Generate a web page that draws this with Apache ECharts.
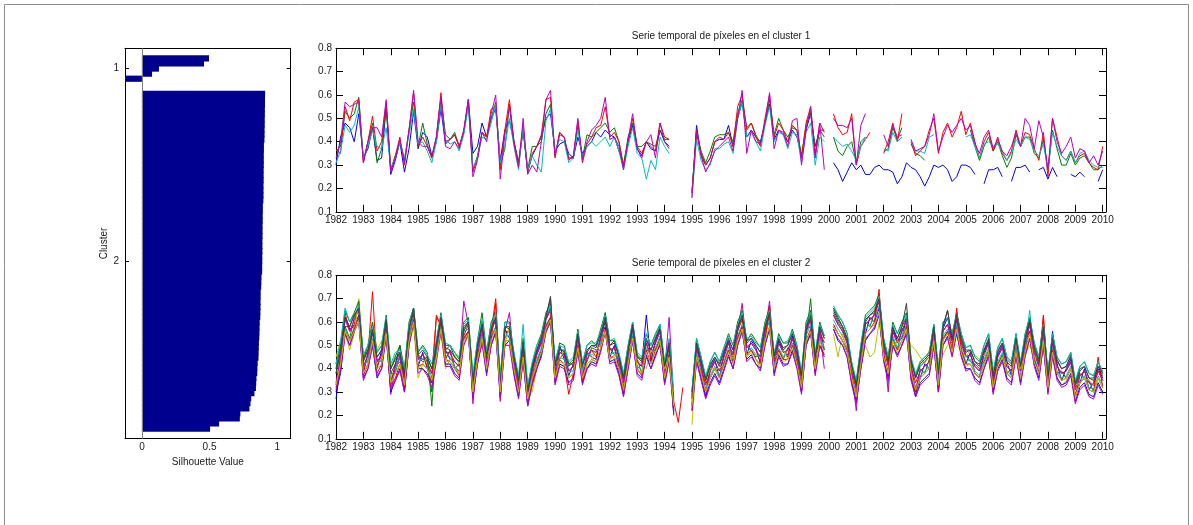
<!DOCTYPE html>
<html lang="es">
<head>
<meta charset="UTF-8">
<title>Silhouette y series temporales por cluster</title>
<script src="https://cdn.jsdelivr.net/npm/echarts@6.0.0/dist/echarts.min.js"></script>
<style>
  html, body { margin: 0; padding: 0; background: #fff; }
  #chart { width: 1193px; height: 525px; }
</style>
</head>
<body>
<div id="chart"></div>
<script>
var _ = null; // hueco en la serie (NaN)

// silhouette por cluster, ordenado de mayor a menor
var clusterNames = ['1', '2'];
var silCluster1 = [0.496, 0.459, 0.126, 0.075, -0.125];
var silCluster2 = [
  .911, .910, .910, .909, .909, .908, .908, .907, .907, .906,
  .902, .902, .901, .901, .901, .900, .900, .900, .899, .899, .899, .898,
  .894, .894, .893, .893, .892, .892, .892, .891, .891, .891, .890, .890, .889, .889,
  .884, .883, .882,
  .878, .878, .877, .877, .876, .875,
  .871, .870, .869, .868,
  .865, .864, .863, .862,
  .856, .854, .853,
  .847, .845, .843,
  .832,
  .808, .803,
  .795,
  .728, .724,
  .571,
  .504
];

// series temporales: 6 muestras por año, 1982.0 ... 2010.0
var c1Blue = [
  .30,.42,.48,.46,.40,.52, .33,.37,.46,.32,.33,.55,
  .26,.32,.40,.27,.37,.53, .37,.44,.42,.34,.40,.54,
  .39,.41,.43,.38,.44,.58, .35,.38,.48,.42,.50,.54,
  .32,.45,.49,.40,.31,.45, .27,.34,.38,.42,.50,.52,
  .36,.39,.40,.35,.33,.42, .35,.38,.40,.44,.42,.45,
  .43,.42,.36,.30,.40,.47, .37,.34,.40,.37,.36,.45,
  .40,.38,_,_,_,_, .18,.47,.34,.30,.33,.40,
  .41,.41,.47,.38,.50,.57, .42,.45,.42,.40,.48,.56,
  .41,.45,.43,.40,.45,.42, .34,.45,.52,.38,.45,.45,
  _,.31,.28,.23,.27,.31, .28,.30,.26,.26,.29,.30,
  .28,.28,.27,.22,.25,.31, .29,.28,.25,.21,.25,.30,
  .29,.30,.28,.23,.25,.30, .30,.29,.26,_,.22,.28,
  .28,.29,.25,_,.23,.29, .29,.30,.27,_,.28,.29,
  .24,.29,.25,_,_,.26, .25,.27,.25,_,_,.23,
  .28
];
var c1Green = [
  .36,.38,.53,.50,.52,.59, .32,.40,.48,.31,.37,.55,
  .28,.34,.40,.32,.45,.57, .38,.48,.39,.33,.42,.59,
  .43,.41,.44,.38,.44,.57, .28,.34,.44,.42,.50,.57,
  .30,.37,.56,.40,.30,.45, .28,.38,.38,.40,.52,.56,
  .34,.44,.42,.33,.33,.47, .33,.43,.42,.44,.46,.48,
  .44,.46,.40,.30,.42,.48, .38,.38,.40,.39,.38,.45,
  .41,.41,_,_,_,_, .19,.44,.36,.31,.36,.42,
  .43,.43,.44,.40,.52,.58, .46,.48,.43,.39,.48,.58,
  .43,.50,.45,.42,.46,.45, .34,.47,.53,.34,.45,.42,
  _,.42,.36,.34,.38,.40, .31,.40,.42,_,_,_,
  .36,.37,.46,.41,.46,_, .39,.35,.34,.32,_,_,
  _,_,_,_,_,_, _,.45,.38,.32,.38,.42,
  .36,.40,.34,.29,.33,.43, .38,.42,.42,.35,.33,.41,
  .28,.45,.37,.30,.30,.35, .30,.33,.34,.31,.28,.28,
  .30
];
var c1Red = [
  .37,.35,.55,.49,.57,.58, .31,.40,.51,.36,.40,.57,
  .28,.34,.42,.30,.45,.61, .38,.42,.38,.33,.42,.61,
  .40,.41,.43,.38,.45,.58, .27,.33,.44,.42,.54,.55,
  .28,.45,.58,.40,.31,.47, .27,.35,.38,.43,.58,.59,
  .33,.44,.42,.32,.34,.49, .31,.39,.42,.46,.47,.55,
  .42,.44,.40,.29,.40,.50, .38,.35,.40,.38,.36,.48,
  .42,.41,_,_,_,_, .18,.45,.35,.30,.33,.40,
  .42,.41,.44,.38,.55,.60, .45,.48,.42,.38,.50,.60,
  .42,.48,.45,.40,.47,.45, .33,.48,.55,.35,.48,.44,
  _,.52,.46,.43,.44,.52, .30,.38,.41,.44,_,_,
  .35,.40,.48,.40,.52,_, .40,.34,.36,.38,.45,.50,
  .35,.44,.48,.42,.46,.53, .43,.48,.40,.33,.40,.44,
  .36,.42,.35,.32,.36,.45, .38,.44,.43,.37,.32,.44,
  .25,.50,.42,.34,.32,.36, .31,.34,.35,.31,.29,.28,
  .38
];
var c1Cyan = [
  .31,.36,.47,.44,.47,.55, .33,.38,.45,.38,.37,.46,
  .29,.33,.40,.33,.43,.54, .39,.40,.36,.31,.40,.56,
  .41,.39,.40,.36,.43,.55, .29,.33,.42,.41,.48,.56,
  .31,.38,.50,.38,.28,.47, .28,.34,.30,.27,.49,.54,
  .36,.41,.40,.31,.33,.45, .33,.38,.40,.38,.40,.42,
  .38,.42,.36,.28,.38,.46, .35,.33,.24,.32,.28,.42,
  .38,.35,_,_,_,_, .16,.41,.32,.28,.30,.37,
  .37,.39,.40,.35,.50,.57, .42,.44,.40,.36,.47,.55,
  .40,.44,.43,.37,.44,.43, .31,.44,.48,.30,.42,.40,
  _,.42,.40,.38,.39,.36, .32,.38,.42,_,_,_,
  .37,.36,.44,.40,.42,_, .40,.36,.36,.35,.42,.43,
  _,_,_,_,_,_, .42,.43,.38,.33,.39,.40,
  .38,.39,.36,.32,.35,.41, .38,.42,.41,.36,.34,.39,
  .28,.44,.38,.34,.32,.36, .31,.35,.36,.32,.30,.29,
  .29
];
var c1Magenta = [
  .33,.40,.57,.55,.56,.57, .31,.40,.46,.46,.42,.58,
  .27,.33,.41,.31,.45,.62, .40,.38,.38,.34,.42,.59,
  .38,.37,.40,.37,.45,.58, .25,.32,.44,.40,.52,.60,
  .24,.43,.55,.39,.29,.50, .26,.30,.27,.40,.58,.62,
  .34,.43,.42,.33,.33,.50, .32,.40,.45,.47,.50,.59,
  .41,.42,.38,.28,.41,.52, .37,.33,.40,.43,.33,.48,
  .40,.37,_,_,_,_, .16,.44,.34,.27,.31,.36,
  .38,.40,.42,.36,.50,.62, .35,.45,.40,.39,.48,.61,
  .37,.45,.44,.38,.49,.50, .30,.45,.55,.33,.48,.28,
  _,.50,.47,.47,.46,.50, .30,.47,.52,_,_,_,
  .43,.38,.47,.42,.43,_, .41,.36,.37,.38,.43,.52,
  .36,.42,.47,.44,.47,.50, .45,.47,.39,.35,.42,.45,
  .37,.41,.36,.34,.38,.44, .38,.50,.47,.37,.49,.42,
  .28,.50,.40,.35,.38,.42, .33,.37,.36,.31,.34,.30,
  .36
];

var c2s1 = [
  .27,.42,.62,.57,.58,.63, .38,.47,.52,.40,.48,.60,
  .33,.42,.50,.33,.52,.62, .41,.47,.40,.34,.50,.61,
  .48,.44,.43,.41,.53,.56, .30,.49,.58,.44,.53,.58,
  .30,.57,.53,.44,.30,.50, .26,.40,.47,.52,.58,.62,
  .36,.50,.44,.37,.42,.50, .36,.47,.45,.44,.54,.58,
  .45,.50,.40,.31,.47,.54, .40,.42,.63,.43,.52,.57,
  .36,.52,.22,_,_,_, .24,.50,.42,.30,.40,.44,
  .36,.46,.52,.43,.53,.58, .46,.52,.49,.42,.57,.60,
  .40,.52,.48,.45,.54,.43, .32,.57,.58,.40,.57,.48,
  _,.58,.55,.52,.47,.36, .29,.43,.55,.62,.60,.66,
  .46,.38,.57,.52,.53,.62, .38,.30,.36,.42,.40,.57,
  .33,.57,.62,.52,.58,.48, .42,.47,.38,.36,.47,.52,
  .33,.46,.50,.43,.37,.52, .40,.52,.56,.44,.38,.53,
  .33,.56,.42,.35,.40,.44, .28,.34,.40,.31,.34,.40,
  .36
];
var c2s2 = [
  .38,.47,.58,.53,.62,.66, .42,.43,.57,.44,.43,.56,
  .38,.38,.46,.37,.57,.65, .45,.43,.44,.30,.46,.62,
  .44,.48,.40,.42,.57,.60, .34,.45,.60,.40,.57,.62,
  .34,.53,.57,.40,.34,.46, .30,.36,.43,.48,.62,.66,
  .40,.44,.47,.36,.38,.54, .40,.43,.49,.48,.50,.62,
  .49,.46,.44,.35,.43,.58, .44,.38,.48,.47,.48,.53,
  .40,.46,.27,_,_,_, .28,.46,.38,.34,.36,.40,
  .40,.42,.48,.47,.57,.62, .50,.48,.45,.46,.53,.64,
  .44,.48,.44,.49,.50,.47, .36,.53,.70,.44,.53,.52,
  _,.64,.60,.57,.52,.40, .32,.47,.60,.58,.64,.70,
  .50,.42,.53,.48,.57,.58, .42,.28,.40,.38,.44,.53,
  .37,.53,.56,.48,.62,.52, .46,.43,.42,.40,.43,.48,
  .36,.42,.46,.38,.40,.48, .36,.48,.60,.48,.42,.57,
  .36,.48,.38,.39,.36,.40, .32,.38,.36,.35,.30,.36,
  .32
];
var c2s3 = [
  .34,.44,.64,.56,.59,.68, .39,.46,.73,.41,.46,.59,
  .35,.41,.43,.36,.54,.63, .44,.46,.41,.38,.62,.59,
  .45,.47,.41,.39,.54,.59, .31,.46,.55,.43,.56,.70,
  .31,.56,.56,.41,.31,.49, .27,.37,.46,.51,.61,.65,
  .37,.47,.46,.39,.41,.53, .37,.44,.48,.45,.53,.61,
  .48,.49,.41,.32,.46,.57, .43,.41,.51,.44,.51,.56,
  .37,.49,.26,.17,.32,_, .27,.49,.41,.33,.39,.43,
  .39,.45,.51,.44,.56,.61, .49,.51,.48,.43,.56,.63,
  .43,.51,.47,.46,.53,.46, .35,.56,.61,.43,.56,.51,
  _,.63,.59,.56,.51,.39, .31,.46,.59,.61,.63,.69,
  .49,.41,.56,.51,.56,.61, .41,.34,.39,.41,.43,.56,
  .36,.56,.59,.51,.61,.51, .45,.46,.41,.39,.46,.51,
  .35,.45,.49,.41,.39,.51, .39,.51,.59,.47,.41,.63,
  .35,.51,.41,.38,.39,.43, .31,.37,.39,.34,.33,.39,
  .35
];
var c2s4 = [
  .40,.48,.57,.52,.58,.62, .41,.44,.53,.43,.44,.56,
  .37,.39,.45,.30,.53,.62, .44,.44,.43,.36,.47,.58,
  .47,.45,.41,.38,.56,.57, .33,.48,.54,.41,.53,.58,
  .33,.54,.54,.43,.33,.47, .27,.39,.44,.49,.59,.62,
  .39,.45,.44,.39,.39,.51, .39,.46,.46,.47,.51,.64,
  .46,.47,.43,.28,.44,.55, .41,.39,.49,.46,.49,.54,
  .39,.47,.24,_,_,_, .25,.47,.39,.31,.37,.41,
  .37,.43,.49,.46,.54,.59, .47,.49,.46,.45,.54,.61,
  .41,.49,.45,.48,.51,.44, .33,.54,.59,.41,.54,.49,
  _,.61,.57,.54,.49,.37, .29,.44,.57,.59,.61,.67,
  .47,.33,.54,.49,.54,.59, .39,.32,.37,.39,.41,.54,
  .34,.54,.57,.49,.59,.49, .43,.44,.39,.37,.44,.49,
  .33,.43,.47,.39,.37,.49, .37,.49,.65,.45,.39,.54,
  .33,.49,.39,.36,.37,.41, .29,.35,.37,.32,.31,.37,
  .33
];
var c2s5 = [
  .33,.46,.61,.56,.61,.65, .41,.46,.56,.43,.46,.59,
  .29,.41,.45,.31,.56,.66, .44,.46,.43,.38,.49,.61,
  .47,.47,.43,.41,.69,.59, .25,.48,.57,.43,.56,.61,
  .26,.56,.64,.43,.33,.49, .29,.39,.46,.51,.61,.66,
  .39,.47,.46,.39,.41,.53, .36,.46,.48,.47,.53,.61,
  .48,.49,.43,.34,.46,.57, .43,.41,.51,.46,.51,.56,
  .39,.62,.26,_,_,_, .27,.49,.41,.28,.39,.43,
  .39,.45,.51,.46,.56,.68, .49,.51,.48,.45,.56,.69,
  .43,.51,.47,.48,.53,.46, .30,.56,.61,.43,.56,.40,
  _,.63,.59,.56,.51,.39, .22,.46,.59,.61,.63,.69,
  .49,.30,.56,.51,.56,.61, .41,.31,.39,.41,.43,.56,
  .30,.56,.59,.51,.61,.51, .45,.46,.41,.39,.46,.51,
  .35,.45,.49,.41,.39,.51, .39,.51,.59,.47,.41,.56,
  .35,.51,.41,.38,.39,.43, .28,.37,.39,.34,.33,.39,
  .35
];
var c2s6 = [
  .45,.52,.55,.48,.55,.70, .45,.50,.60,.48,.52,.55,
  .40,.46,.48,.40,.50,.58, .36,.42,.45,.40,.45,.55,
  .40,.44,.46,.42,.50,.54, .38,.44,.50,.45,.50,.55,
  .35,.50,.58,.46,.36,.44, .30,.30,.40,.46,.55,.60,
  .42,.44,.48,.42,.42,.48, .42,.40,.44,.48,.50,.55,
  .44,.46,.46,.38,.48,.52, .44,.42,.40,.48,.46,.52,
  .40,.45,.30,_,_,_, .16,.45,.44,.35,.40,.40,
  .40,.42,.48,.44,.52,.56, .45,.48,.44,.40,.52,.58,
  .45,.46,.48,.44,.50,.42, .30,.50,.55,.45,.50,.45,
  _,.55,.45,.55,.48,.40, .35,.40,.50,.45,.47,.60,
  .46,.45,.48,.52,.50,.55, .50,.48,.45,.42,.48,.50,
  .44,.46,.50,.52,.50,.48, .45,.48,.46,.44,.46,.48,
  .38,.42,.44,.42,.40,.52, .40,.46,.50,.45,.45,.48,
  .40,.45,.36,.33,.35,.40, .33,.34,.36,.35,.33,.36,
  .32
];
var c2s7 = [
  .42,.50,.58,.58,.63,.66, .44,.48,.55,.45,.48,.60,
  .40,.44,.47,.38,.58,.64, .46,.44,.45,.40,.50,.62,
  .48,.50,.45,.43,.56,.60, .35,.50,.60,.46,.58,.60,
  .35,.58,.57,.46,.36,.50, .32,.40,.48,.54,.62,.70,
  .42,.48,.48,.42,.42,.55, .42,.47,.50,.50,.55,.60,
  .50,.52,.45,.36,.48,.58, .45,.44,.52,.48,.53,.58,
  .42,.50,.20,_,_,_, .30,.52,.44,.35,.42,.45,
  .42,.48,.52,.48,.58,.62, .52,.53,.50,.47,.58,.64,
  .45,.53,.48,.50,.55,.48, .37,.57,.62,.45,.58,.53,
  _,.66,.62,.58,.53,.42, .34,.48,.60,.63,.64,.70,
  .52,.44,.57,.53,.58,.62, .44,.36,.42,.44,.46,.58,
  .38,.58,.65,.53,.62,.54, .48,.48,.43,.42,.48,.52,
  .30,.48,.51,.44,.42,.53, .42,.53,.60,.50,.44,.58,
  .38,.53,.44,.40,.41,.46, .34,.40,.41,.36,.36,.41,
  .38
];
var c2s8 = [
  .30,.38,.55,.50,.56,.60, .36,.40,.50,.36,.40,.54,
  .30,.35,.40,.30,.50,.60, .40,.40,.38,.34,.45,.57,
  .42,.42,.38,.36,.52,.55, .28,.42,.52,.38,.50,.56,
  .28,.50,.52,.38,.28,.44, .24,.34,.40,.46,.56,.60,
  .34,.42,.41,.34,.36,.48, .34,.40,.43,.42,.48,.56,
  .43,.44,.38,.29,.40,.52, .38,.36,.46,.40,.46,.50,
  .34,.44,.22,_,_,_, .22,.44,.36,.28,.34,.38,
  .34,.40,.46,.40,.50,.56, .44,.46,.42,.40,.50,.57,
  .38,.46,.42,.42,.48,.41, .30,.50,.55,.38,.50,.46,
  _,.57,.52,.50,.45,.34, .26,.40,.52,.55,.57,.63,
  .44,.36,.50,.46,.50,.55, .36,.28,.34,.36,.38,.50,
  .30,.50,.54,.46,.55,.46, .40,.40,.36,.34,.40,.46,
  .30,.40,.44,.36,.34,.46, .34,.46,.53,.42,.36,.50,
  .30,.46,.36,.33,.34,.38, .26,.32,.34,.29,.28,.34,
  .30
];
var c2s9 = [
  .40,.50,.65,.60,.64,.69, .44,.50,.60,.47,.50,.63,
  .40,.45,.50,.40,.60,.66, .47,.50,.47,.24,.52,.64,
  .50,.50,.47,.44,.60,.62, .36,.52,.64,.47,.60,.64,
  .36,.60,.60,.46,.36,.53, .32,.42,.50,.55,.64,.68,
  .42,.51,.50,.42,.44,.57, .42,.50,.52,.50,.57,.64,
  .52,.52,.46,.37,.50,.60, .46,.44,.55,.50,.55,.59,
  .42,.52,.28,_,_,_, .30,.53,.45,.36,.43,.47,
  .43,.49,.55,.50,.60,.65, .52,.55,.52,.49,.60,.66,
  .46,.55,.51,.51,.57,.50, .38,.60,.65,.46,.60,.54,
  _,.66,.63,.60,.55,.42, .34,.50,.63,.65,.67,.72,
  .53,.45,.60,.55,.60,.64, .44,.37,.43,.45,.47,.59,
  .40,.60,.62,.55,.64,.55, .49,.50,.45,.43,.50,.55,
  .38,.49,.53,.45,.43,.55, .42,.55,.62,.51,.45,.60,
  .38,.55,.45,.42,.43,.47, .34,.41,.43,.38,.37,.43,
  .38
];
var c2s10 = [
  .32,.40,.56,.52,.57,.62, .37,.42,.52,.38,.42,.55,
  .32,.36,.42,.32,.52,.60, .41,.42,.40,.34,.63,.58,
  .44,.43,.40,.37,.53,.56, .30,.44,.53,.40,.52,.68,
  .30,.52,.52,.40,.30,.46, .26,.35,.42,.47,.58,.62,
  .35,.44,.42,.29,.38,.50, .35,.42,.44,.43,.49,.57,
  .45,.45,.40,.30,.42,.53, .40,.37,.48,.42,.48,.52,
  .36,.46,.24,_,_,_, .24,.45,.38,.30,.36,.40,
  .36,.42,.48,.42,.53,.58, .46,.48,.44,.42,.52,.67,
  .40,.48,.44,.44,.50,.43, .32,.52,.57,.40,.52,.48,
  _,.59,.55,.52,.48,.36, .28,.42,.55,.57,.60,.74,
  .46,.38,.52,.48,.52,.58, .38,.30,.36,.38,.40,.52,
  .32,.52,.56,.48,.66,.48, .42,.42,.38,.36,.42,.47,
  .32,.42,.45,.38,.36,.47, .36,.47,.56,.44,.38,.62,
  .32,.48,.38,.35,.36,.40, .28,.34,.36,.31,.30,.45,
  .32
];
var c2s11 = [
  .42,.52,.66,.60,.63,.67, .46,.50,.58,.47,.50,.62,
  .42,.47,.48,.40,.59,.66, .48,.49,.46,.42,.52,.63,
  .51,.50,.47,.45,.59,.61, .38,.52,.61,.47,.59,.64,
  .37,.60,.59,.47,.37,.59, .33,.43,.50,.54,.63,.67,
  .44,.50,.49,.43,.45,.56, .43,.50,.51,.51,.56,.63,
  .52,.53,.47,.38,.50,.60, .47,.45,.55,.50,.54,.59,
  .43,.53,.30,_,_,_, .31,.53,.45,.37,.43,.47,
  .43,.49,.54,.50,.59,.64, .53,.54,.51,.49,.59,.65,
  .47,.54,.51,.52,.56,.50, .39,.59,.64,.47,.59,.54,
  _,.67,.63,.60,.55,.43, .35,.50,.62,.64,.66,.71,
  .53,.45,.59,.55,.59,.63, .45,.38,.43,.45,.47,.59,
  .40,.59,.62,.55,.63,.55, .49,.50,.45,.43,.50,.55,
  .39,.49,.53,.45,.43,.55, .43,.55,.62,.51,.45,.59,
  .39,.55,.45,.42,.43,.47, .35,.41,.43,.38,.37,.43,
  .39
];
var c2s12 = [
  .31,.40,.55,.50,.56,.60, .35,.40,.50,.37,.40,.54,
  .31,.35,.39,.30,.50,.61, .38,.40,.37,.32,.43,.56,
  .41,.41,.37,.35,.50,.55, .27,.42,.51,.37,.50,.56,
  .27,.50,.50,.37,.27,.43, .24,.33,.40,.45,.56,.61,
  .33,.41,.40,.33,.35,.47, .33,.40,.42,.41,.47,.56,
  .42,.43,.37,.28,.40,.52, .37,.35,.45,.40,.45,.51,
  .33,.43,.21,_,_,_, .22,.43,.35,.27,.33,.37,
  .33,.39,.45,.40,.50,.56, .43,.45,.42,.39,.50,.58,
  .37,.45,.41,.42,.47,.40, .29,.50,.56,.37,.50,.45,
  _,.57,.53,.50,.45,.33, .25,.40,.53,.55,.58,.64,
  .43,.35,.50,.45,.50,.56, .35,.28,.33,.35,.37,.50,
  .30,.50,.53,.45,.56,.45, .39,.40,.35,.33,.40,.45,
  .29,.39,.43,.35,.33,.45, .33,.45,.53,.41,.35,.50,
  .29,.45,.35,.32,.33,.37, .25,.31,.33,.28,.27,.33,
  .29
];
var c2s13 = [
  .38,.48,.62,.58,.63,.66, .43,.48,.57,.45,.48,.61,
  .38,.42,.47,.38,.57,.66, .46,.48,.45,.40,.51,.62,
  .49,.48,.45,.43,.58,.60, .34,.50,.59,.45,.57,.62,
  .34,.58,.58,.45,.35,.51, .30,.41,.48,.53,.62,.71,
  .41,.49,.47,.41,.43,.55, .41,.48,.50,.49,.55,.62,
  .50,.51,.45,.36,.48,.59, .45,.43,.53,.48,.53,.57,
  .41,.51,.21,_,_,_, .29,.51,.43,.35,.41,.45,
  .41,.47,.53,.48,.58,.63, .51,.53,.50,.47,.58,.64,
  .45,.53,.49,.50,.55,.48, .37,.58,.63,.45,.58,.53,
  _,.65,.61,.58,.53,.41, .33,.48,.61,.63,.65,.70,
  .51,.43,.58,.53,.58,.68, .43,.36,.41,.43,.45,.58,
  .38,.58,.65,.53,.63,.53, .47,.48,.43,.41,.48,.53,
  .37,.47,.51,.43,.41,.53, .41,.53,.61,.49,.43,.58,
  .37,.53,.43,.40,.41,.45, .33,.39,.41,.36,.35,.41,
  .37
];
var c2s14 = [
  .33,.42,.56,.52,.56,.60, .38,.42,.52,.40,.42,.55,
  .34,.38,.42,.33,.52,.60, .40,.42,.40,.35,.45,.57,
  .43,.43,.40,.38,.52,.55, .30,.44,.53,.40,.52,.57,
  .30,.52,.52,.40,.30,.45, .27,.36,.42,.47,.57,.61,
  .36,.43,.42,.36,.38,.49, .36,.42,.44,.43,.49,.56,
  .44,.45,.40,.31,.42,.53, .40,.38,.47,.42,.47,.52,
  .36,.45,.24,_,_,_, .24,.45,.38,.30,.36,.40,
  .36,.41,.47,.42,.52,.57, .45,.47,.44,.41,.52,.58,
  .40,.47,.43,.44,.49,.42, .32,.52,.56,.40,.52,.47,
  _,.58,.55,.52,.47,.36, .28,.42,.55,.57,.59,.64,
  .45,.38,.52,.47,.52,.57, .38,.31,.36,.38,.40,.52,
  .33,.52,.55,.47,.57,.47, .41,.42,.38,.36,.42,.47,
  .32,.41,.45,.38,.36,.47, .36,.47,.55,.43,.38,.52,
  .32,.47,.38,.35,.36,.40, .28,.34,.36,.31,.30,.36,
  .32
];

var titles = ['Serie temporal de píxeles en el cluster 1', 'Serie temporal de píxeles en el cluster 2'];

// colores de línea de MATLAB
var cBlue = '#0000ff', cGreen = '#008000', cRed = '#ff0000', cCyan = '#00bfbf',
    cMagenta = '#bf00bf', cYellow = '#bfbf00', cDark = '#404040';

var cluster1 = [
  [c1Blue, cBlue], [c1Green, cGreen], [c1Red, cRed], [c1Cyan, cCyan], [c1Magenta, cMagenta]
];
var cluster2 = [
  [c2s1, cBlue], [c2s2, cGreen], [c2s3, cRed], [c2s4, cCyan], [c2s5, cMagenta],
  [c2s6, cYellow], [c2s7, cDark], [c2s8, cBlue], [c2s9, cGreen], [c2s10, cRed],
  [c2s11, cCyan], [c2s12, cMagenta], [c2s13, cDark], [c2s14, cYellow]
];

var years = [];
for (var i = 0; i < c1Red.length; i++) years.push(1982 + i / 6);

function pairs(vals) {
    return vals.map(function (v, i) { return [years[i], v]; });
}

// filas de la gráfica silhouette: 2 huecos, cluster, 2 huecos, ...
var silData = [], slotNames = [], slotIds = [];
function pushGap() {
    for (var k = 0; k < 2; k++) { silData.push('-'); slotNames.push(''); }
}
pushGap();
[silCluster1, silCluster2].forEach(function (vals, c) {
    vals.forEach(function (v, i) {
        silData.push(v);
        slotNames.push(i === Math.floor(vals.length / 2) ? clusterNames[c] : '');
    });
    pushGap();
});
slotNames.forEach(function (n, i) { slotIds.push('s' + i); });

var font = 'Liberation Sans, Arial, Helvetica, sans-serif';
var txt = '#1a1a1a';
var axLine = { show: true, onZero: false, lineStyle: { color: '#000', width: 1 } };

function tsX(grid, pos) {
    return {
        type: 'value', gridIndex: grid, position: pos,
        min: 1982, max: 2010.12, interval: 1,
        axisLine: axLine,
        axisTick: { inside: true, length: 7, lineStyle: { color: '#000' } },
        axisLabel: pos === 'bottom' ? {
            margin: 3, fontSize: 10, fontFamily: font, color: txt,
            formatter: function (v) { return Number.isInteger(v) ? String(v) : ''; }
        } : { show: false },
        splitLine: { show: false }
    };
}
function tsY(grid, pos) {
    return {
        type: 'value', gridIndex: grid, position: pos,
        min: 0.1, max: 0.8, interval: 0.1,
        axisLine: axLine,
        axisTick: { inside: true, length: 7, lineStyle: { color: '#000' } },
        axisLabel: pos === 'left' ? { margin: 4, fontSize: 10, fontFamily: font, color: txt } : { show: false },
        splitLine: { show: false }
    };
}
function silX(pos) {
    return {
        type: 'value', gridIndex: 0, position: pos,
        min: -0.125, max: 1.1,
        name: pos === 'bottom' ? 'Silhouette Value' : '',
        nameLocation: 'middle', nameGap: 15,
        nameTextStyle: { fontSize: 10, fontFamily: font, color: txt },
        axisLine: axLine,
        axisTick: { inside: true, length: 4, customValues: [0, 0.5, 1], lineStyle: { color: '#000' } },
        axisLabel: pos === 'bottom' ? {
            customValues: [0, 0.5, 1], margin: 4, fontSize: 10, fontFamily: font, color: txt
        } : { show: false },
        splitLine: { show: false }
    };
}
function silY(pos) {
    return {
        type: 'category', gridIndex: 0, position: pos, inverse: true, boundaryGap: false,
        data: slotIds,
        name: pos === 'left' ? 'Cluster' : '',
        nameLocation: 'middle', nameGap: 15, nameRotate: 90,
        nameTextStyle: { fontSize: 10, fontFamily: font, color: txt },
        axisLine: axLine,
        axisTick: {
            inside: true, length: 4, lineStyle: { color: '#000' },
            interval: function (idx) { return slotNames[idx] !== ''; }
        },
        axisLabel: pos === 'left' ? {
            interval: 0, margin: 6, fontSize: 10, fontFamily: font, color: txt,
            formatter: function (v, idx) { return slotNames[idx]; }
        } : { show: false },
        splitLine: { show: false }
    };
}

var series = [{
    type: 'bar', xAxisIndex: 0, yAxisIndex: 0,
    data: silData, barWidth: 6.2,
    itemStyle: { color: '#00008f' },
    silent: true,
    markLine: {
        silent: true, symbol: ['none', 'none'], label: { show: false },
        lineStyle: { color: '#808080', width: 1, type: 'solid' },
        data: [{ xAxis: 0 }]
    }
}];
cluster1.forEach(function (s) {
    series.push({
        type: 'line', xAxisIndex: 2, yAxisIndex: 2, data: pairs(s[0]),
        showSymbol: false, symbol: 'none', silent: true,
        lineStyle: { color: s[1], width: 1 }
    });
});
cluster2.forEach(function (s) {
    series.push({
        type: 'line', xAxisIndex: 4, yAxisIndex: 4, data: pairs(s[0]),
        showSymbol: false, symbol: 'none', silent: true,
        lineStyle: { color: s[1], width: 1 }
    });
});

var chart = echarts.init(document.getElementById('chart'), null, { renderer: 'canvas' });
chart.setOption({
    animation: false,
    backgroundColor: '#ffffff',
    textStyle: { fontFamily: font },
    title: [{
        text: titles[0], left: 721, top: 31, textAlign: 'center', padding: 0,
        textStyle: { fontSize: 10, fontWeight: 'normal', fontFamily: font, color: txt }
    }, {
        text: titles[1], left: 721, top: 258, textAlign: 'center', padding: 0,
        textStyle: { fontSize: 10, fontWeight: 'normal', fontFamily: font, color: txt }
    }],
    grid: [
        { left: 125, top: 48.3, width: 165.7, height: 390.4 },
        { left: 336, top: 48.3, width: 770, height: 163.5 },
        { left: 336, top: 275.3, width: 770, height: 163.5 }
    ],
    xAxis: [silX('bottom'), silX('top'), tsX(1, 'bottom'), tsX(1, 'top'), tsX(2, 'bottom'), tsX(2, 'top')],
    yAxis: [silY('left'), silY('right'), tsY(1, 'left'), tsY(1, 'right'), tsY(2, 'left'), tsY(2, 'right')],
    graphic: [{
        type: 'rect', silent: true,
        shape: { x: 4.5, y: 4.5, width: 1184, height: 540 },
        style: { fill: 'none', stroke: '#8c8c8c', lineWidth: 1 }
    }],
    series: series
});
</script>
</body>
</html>
